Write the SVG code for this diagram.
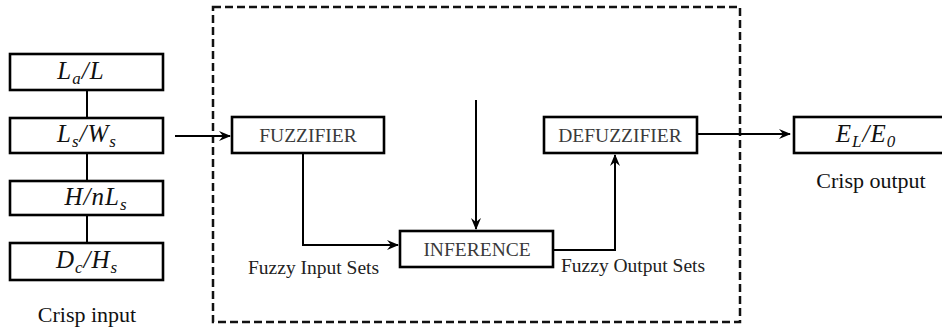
<svg xmlns="http://www.w3.org/2000/svg" width="942" height="331" viewBox="0 0 942 331">
<style>
.box{fill:#fff;stroke:#000;stroke-width:2.6}
text{font-family:"Liberation Serif","Times New Roman","DejaVu Serif",serif}
.lbl{font-size:19.5px;fill:#3a3a3a;text-anchor:middle}
.cap{font-size:22px;fill:#111;text-anchor:middle}
.set{font-size:19.5px;fill:#222}
.math{font-style:italic;font-size:25px;fill:#111;text-anchor:middle;letter-spacing:1px}
.sub{font-size:17px}
.ln{fill:none;stroke:#000;stroke-width:2}
.dash{fill:none;stroke:#111;stroke-width:2.5;stroke-dasharray:8 4}
</style>
<defs>
<marker id="ah" viewBox="0 0 12 10" refX="11" refY="5" markerWidth="12" markerHeight="10" markerUnits="userSpaceOnUse" orient="auto">
<path d="M0,0 L12,5 L0,10 L4,5 Z" fill="#000"/>
</marker>
</defs>
<rect class="dash" x="213" y="7" width="527" height="315"/>
<g id="connectors">
<line class="ln" x1="87" y1="90" x2="87" y2="118"/>
<line class="ln" x1="87" y1="153" x2="87" y2="181"/>
<line class="ln" x1="87" y1="215" x2="87" y2="243"/>
<line class="ln" x1="175" y1="136" x2="230" y2="136" marker-end="url(#ah)"/>
<polyline class="ln" points="303,153 303,245 398,245" marker-end="url(#ah)"/>
<line class="ln" x1="476" y1="100" x2="476" y2="229" marker-end="url(#ah)"/>
<polyline class="ln" points="553,250 615,250 615,155" marker-end="url(#ah)"/>
<line class="ln" x1="697" y1="134" x2="790" y2="134" marker-end="url(#ah)"/>
</g>
<g id="in1"><rect class="box" x="10" y="54" width="153" height="36"/><text class="math" x="81" y="79">L<tspan class="sub" dy="5">a</tspan><tspan dy="-5">/L</tspan></text></g>
<g id="in2"><rect class="box" x="10" y="118" width="153" height="35"/><text class="math" x="87" y="142">L<tspan class="sub" dy="5">s</tspan><tspan dy="-5">/W</tspan><tspan class="sub" dy="5">s</tspan></text></g>
<g id="in3"><rect class="box" x="10" y="181" width="153" height="34"/><text class="math" x="96" y="205">H/nL<tspan class="sub" dy="5">s</tspan></text></g>
<g id="in4"><rect class="box" x="10" y="243" width="153" height="37"/><text class="math" x="87" y="268">D<tspan class="sub" dy="5">c</tspan><tspan dy="-5">/H</tspan><tspan class="sub" dy="5">s</tspan></text></g>
<text class="cap" x="87" y="322">Crisp input</text>
<g id="fuzzifier"><rect class="box" x="232" y="117" width="152" height="36"/><text class="lbl" x="308" y="142">FUZZIFIER</text></g>
<g id="inference"><rect class="box" x="400" y="231" width="153" height="36"/><text class="lbl" x="477" y="256">INFERENCE</text></g>
<g id="defuzzifier"><rect class="box" x="544" y="117" width="153" height="36"/><text class="lbl" x="620" y="142">DEFUZZIFIER</text></g>
<g id="output"><rect class="box" x="794" y="117" width="152" height="36"/><text class="math" x="866" y="142">E<tspan class="sub" dy="5">L</tspan><tspan dy="-5">/E</tspan><tspan class="sub" dy="5">0</tspan></text></g>
<text class="cap" x="871" y="188">Crisp output</text>
<text class="set" x="248" y="274">Fuzzy Input Sets</text>
<text class="set" x="561" y="272">Fuzzy Output Sets</text>
</svg>
